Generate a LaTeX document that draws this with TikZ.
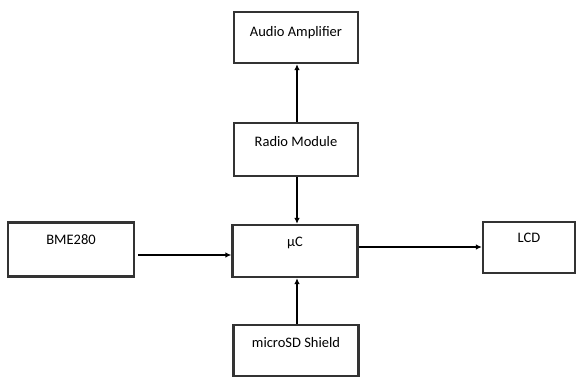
\documentclass[tikz,border=0pt]{standalone}
\usepackage{fontspec}
\setmainfont{Carlito}
\usetikzlibrary{arrows.meta,calc}
\begin{document}
\begin{tikzpicture}[x=1pt,y=-1pt,
  blk/.style={draw=black!80, line width=2.2pt, rectangle, inner sep=0pt},
  lbl/.style={font=\fontsize{14.5}{16}\selectfont, anchor=north, inner sep=0pt},
  conn/.style={line width=2pt, -{Latex[length=6pt,width=5.5pt]}}]
\useasboundingbox (0,0) rectangle (576,378);
\node[blk, minimum width=124pt, minimum height=51pt] (amp) at (296,37.5) {};
\node[lbl] at ([yshift=-15pt]amp.north) {Audio Amplifier};
\node[blk, minimum width=124pt, minimum height=53pt] (radio) at (296,149.5) {};
\node[lbl] at ([yshift=-14pt]radio.north) {Radio Module};
\node[blk, minimum width=125pt, minimum height=52pt] (mc) at (295,251) {};
\node[lbl] at ([yshift=-13pt]mc.north) {μC};
\node[blk, minimum width=125pt, minimum height=51pt] (sd) at (296,350.5) {};
\node[lbl] at ([yshift=-13pt]sd.north) {microSD Shield};
\node[blk, minimum width=126pt, minimum height=54pt] (bme) at (71,249.5) {};
\node[lbl] at ([yshift=-13pt]bme.north) {BME280};
\node[blk, minimum width=92pt, minimum height=51pt] (lcd) at (529,247.5) {};
\node[lbl] at ([yshift=-12pt]lcd.north) {LCD};
\draw[conn] ([xshift=1pt]radio.north) -- ([xshift=1pt]amp.south);
\draw[conn] ([xshift=1pt]radio.south) -- ([xshift=1pt]radio.south |- mc.north);
\draw[conn] ([xshift=1pt]sd.north) -- ([xshift=1pt]sd.north |- mc.south);
\draw[conn] ([xshift=3pt,yshift=-5.5pt]bme.east) -- ([yshift=-5.5pt]bme.east -| mc.west);
\draw[conn] ([yshift=0.5pt]lcd.west -| mc.east) -- ([yshift=0.5pt]lcd.west);
\end{tikzpicture}
\end{document}
